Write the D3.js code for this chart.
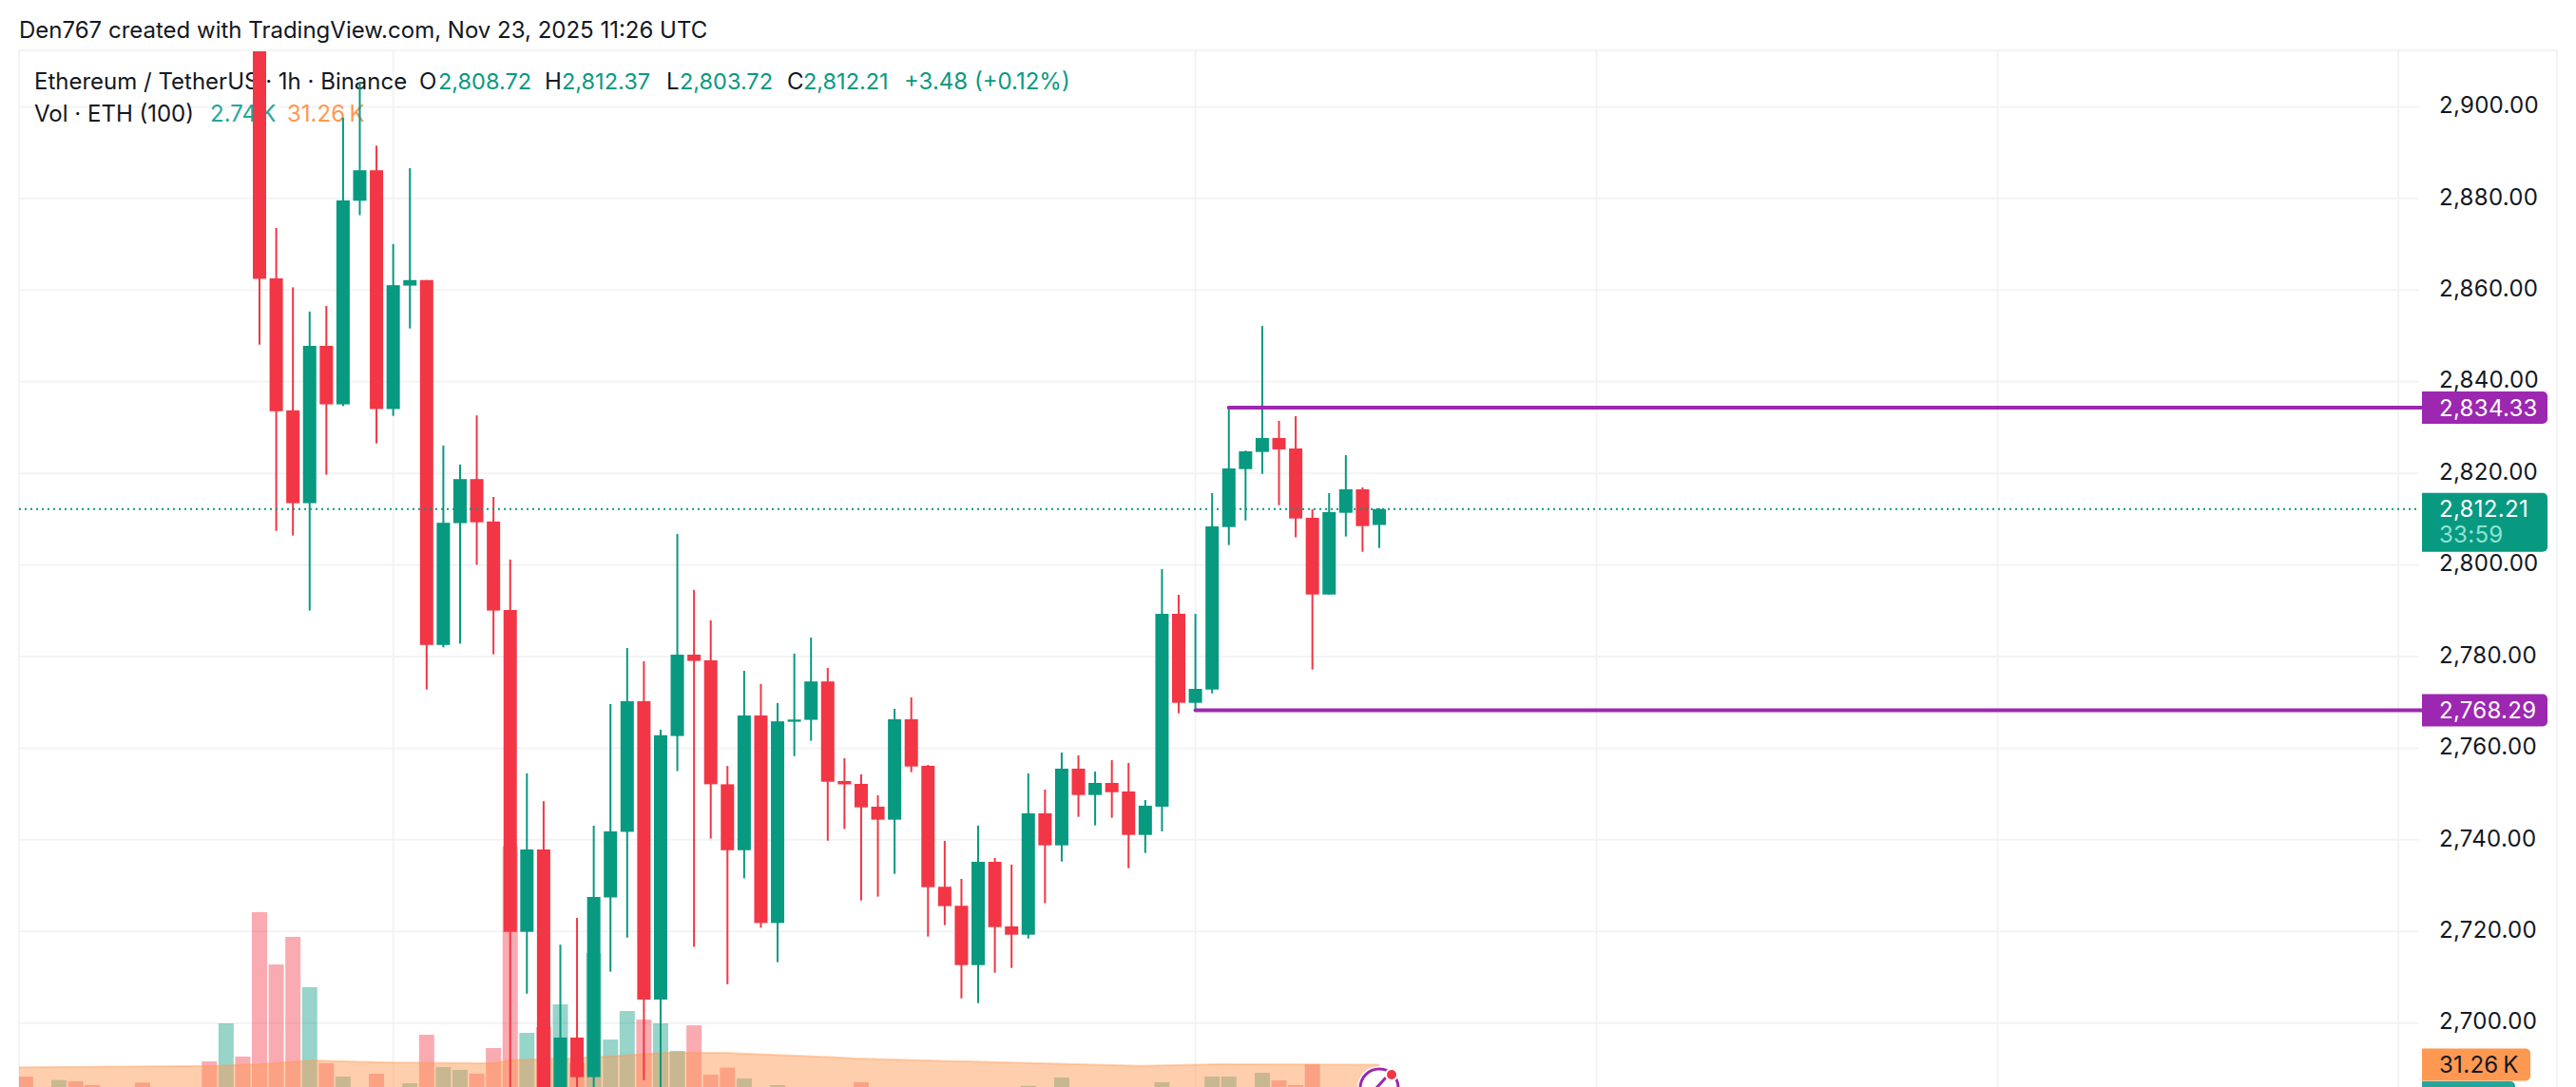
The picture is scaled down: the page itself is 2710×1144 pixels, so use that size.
<!DOCTYPE html>
<html>
<head>
<meta charset="utf-8">
<title>ETHUSDT 1h</title>
<script src="https://cdn.jsdelivr.net/npm/d3@7"></script>
<style>
  html, body { margin: 0; padding: 0; background: #ffffff; }
  svg { display: block; }
  text { font-family: Inter, "Noto Sans", sans-serif; font-size: 24px; fill: #131722; }
</style>
</head>
<body>
<svg id="chart" width="2710" height="1144"></svg>
<script>
// candles, oldest first. first one and a few lows run off the chart
var opens = [2935, 2862.55, 2833.74, 2813.48, 2847.82, 2835.05, 2879.5, 2886.15, 2834.03, 2860.97,
  2862.18, 2782.53, 2809.12, 2818.74, 2809.49, 2790.16, 2719.91, 2737.89, 2680, 2696.83,
  2688.2, 2727.42, 2741.74, 2770.25, 2705.13, 2762.66, 2780.41, 2779.19, 2752.12, 2737.73,
  2767.14, 2721.84, 2765.77, 2766.19, 2774.57, 2752.83, 2752.21, 2747.23, 2744.39, 2766.31,
  2756.15, 2729.75, 2725.6, 2712.65, 2735.2, 2721.1, 2719.29, 2745.78, 2738.79, 2755.53,
  2749.78, 2752.41, 2750.55, 2741.07, 2747.23, 2789.33, 2769.9, 2772.8, 2808.27, 2820.92,
  2824.66, 2827.7, 2825.42, 2810.28, 2793.54, 2811.38, 2816.51, 2808.72];
var highs = [2940, 2873.56, 2860.6, 2855.31, 2856.54, 2897.64, 2905.48, 2891.52, 2870.04, 2886.61,
  2862.18, 2826.07, 2821.9, 2832.64, 2814.84, 2801.18, 2754.51, 2748.43, 2717.11, 2722.96,
  2743.08, 2769.63, 2781.87, 2778.96, 2764.03, 2806.76, 2794.54, 2787.9, 2756.11, 2776.89,
  2774, 2769.86, 2780.64, 2784.15, 2777.53, 2757.81, 2754.28, 2749.72, 2768.59, 2771.08,
  2756.36, 2739.76, 2731.47, 2743.08, 2736.03, 2734.57, 2754.49, 2750.96, 2759.05, 2758.43,
  2754.9, 2757.39, 2756.77, 2748.68, 2799.09, 2793.48, 2789.33, 2815.67, 2834.34, 2824.95,
  2852.18, 2831.44, 2832.47, 2812.15, 2815.67, 2823.97, 2816.92, 2812.37];
var lows = [2848.09, 2807.44, 2806.42, 2790.04, 2819.68, 2834.67, 2876.34, 2826.52, 2832.54, 2851.62,
  2772.82, 2782, 2782.82, 2800.03, 2780.5, 2670, 2706.41, 2670, 2672, 2675,
  2680, 2711.21, 2718.65, 2687.55, 2680, 2755, 2716.64, 2740.28, 2708.48, 2731.59,
  2720.81, 2713.28, 2758.26, 2761.63, 2739.8, 2742.36, 2726.76, 2727.59, 2732.57, 2754.76,
  2718.88, 2721.37, 2705.39, 2704.36, 2710.99, 2712.03, 2718.46, 2726.14, 2735.26, 2745.01,
  2743.15, 2744.8, 2733.81, 2737.13, 2741.84, 2767.62, 2768.24, 2771.97, 2804.33, 2809.72,
  2819.88, 2813.04, 2806.03, 2777.16, 2793.54, 2806.2, 2802.88, 2803.72];
var closes = [2862.45, 2833.55, 2813.48, 2847.82, 2835.05, 2879.58, 2886.15, 2834.03, 2861.06, 2862.18,
  2782.53, 2809.2, 2818.74, 2809.31, 2790.04, 2719.91, 2737.89, 2678.6, 2696.83, 2688.2,
  2727.52, 2741.84, 2770.25, 2705.13, 2762.83, 2780.41, 2779.05, 2752.12, 2737.73, 2767.14,
  2721.84, 2765.86, 2766.25, 2774.57, 2752.68, 2752.1, 2747.09, 2744.39, 2766.31, 2756,
  2729.66, 2725.52, 2712.65, 2735.2, 2720.95, 2719.29, 2745.78, 2738.79, 2755.53, 2749.78,
  2752.41, 2750.4, 2741.07, 2747.44, 2789.33, 2769.9, 2772.95, 2808.41, 2821.07, 2824.8,
  2827.7, 2825.22, 2810.14, 2793.54, 2811.53, 2816.51, 2808.48, 2812.21];

// volume in thousands, only the bars tall enough to show. slot is counted from the first candle
var volSlots = [-14, -12, -11, -10, -7, -3, -2, -1, 0, 1, 2, 3, 4, 5, 7, 9, 10, 11, 12, 13, 14, 15, 16, 17, 18,
  19, 20, 21, 22, 23, 24, 25, 26, 27, 28, 29, 31, 36, 46, 48, 54, 57, 58, 60, 61, 62, 63];
var volK = [20.9, 17.9, 16.8, 13.5, 15.7, 34.1, 67.2, 38.3, 163.9, 118.4, 142.4, 98.6, 32.5, 20.9, 23.4, 15.1,
  57.3, 29.2, 26.7, 23.4, 45.7, 221.3, 58.9, 63.9, 83.7, 32.5, 128.3, 53.1, 77.9, 70.5, 67.2, 43.2, 65.5,
  22.6, 28.7, 19.3, 13.5, 16, 12.9, 20.1, 16, 20.9, 20.9, 24.2, 17.6, 13.5, 31.7];
var volDir = ["d", "u", "d", "d", "d", "d", "u", "d", "d", "d", "d", "u", "d", "u", "d", "u",
  "d", "u", "u", "d", "d", "d", "u", "d", "u", "d", "u", "u", "u", "d", "u", "u", "d",
  "d", "d", "u", "u", "d", "u", "u", "u", "u", "u", "u", "d", "d", "d"];

// volume moving average
var maSlots = [-14.4, -2.7, 0, 3.2, 5, 8, 12, 14, 15, 18.6, 21, 24.3, 27.7, 34.5, 35.7, 41.4, 52.7, 57.3, 67];
var maK = [28.9, 30.2, 31.7, 35, 34.1, 33.1, 32.7, 32.5, 35.2, 36.6, 38.5, 41.6, 41.6, 37.7, 36.6, 34.4, 30.2, 31.7, 31.26];

var priceTicks = [2700, 2720, 2740, 2760, 2780, 2800, 2820, 2840, 2860, 2880, 2900];
var timeGrid = [8, 56, 80, 104];

var lastPrice = 2812.21;
var levelPrices = [2834.33, 2768.29];
var levelStarts = [58, 56];

var upColor = "#089981", downColor = "#F23645", levelColor = "#9C27B0", gridColor = "#f2f3f5";

var svg = d3.select("#chart");

var x = d3.scaleLinear().domain([0, 67]).range([273, 1451]);
var y = d3.scaleLinear().domain([2700, 2840]).range([1076.7, 401.7]);
var vol = d3.scaleLinear().domain([0, 100]).range([1158.3, 1037.3]);

var left = 20, top_ = 53, axisX = 2523, right = 2690, bottom = 1144;

svg.append("clipPath").attr("id", "pane").append("rect")
  .attr("x", left).attr("y", top_ + 1).attr("width", axisX - left).attr("height", bottom - top_);

// grid and frame
var grid = svg.append("g").attr("stroke", gridColor).attr("stroke-width", 2);
grid.selectAll("line.h").data(priceTicks).join("line").attr("class", "h")
  .attr("x1", left).attr("x2", 2545).attr("y1", d => y(d)).attr("y2", d => y(d));
grid.selectAll("line.v").data(timeGrid).join("line").attr("class", "v")
  .attr("x1", d => x(d)).attr("x2", d => x(d)).attr("y1", top_).attr("y2", bottom);
[left, axisX, right].forEach(function(px) {
  grid.append("line").attr("x1", px).attr("x2", px).attr("y1", top_).attr("y2", bottom);
});
grid.append("line").attr("x1", left).attr("x2", right).attr("y1", top_).attr("y2", top_);

// attribution on top, legend sits under the candles
svg.append("text").attr("x", 20).attr("y", 40).text("Den767 created with TradingView.com, Nov 23, 2025 11:26 UTC");

function legend(px, py, str, color, size) {
  svg.append("text").attr("x", px).attr("y", py).style("fill", color).style("font-size", size || "24px").text(str);
}
legend(36, 94, "Ethereum / TetherUS · 1h · Binance", "#131722");
legend(441, 94, "O", "#131722");
legend(461, 94, "2,808.72", upColor, "23.5px");
legend(573, 94, "H", "#131722");
legend(591, 94, "2,812.37", upColor, "23.5px");
legend(701, 94, "L", "#131722");
legend(715, 94, "2,803.72", upColor, "23.5px");
legend(828, 94, "C", "#131722");
legend(845, 94, "2,812.21", upColor, "23.5px");
legend(951, 94, "+3.48 (+0.12%)", upColor);
legend(36, 128, "Vol · ETH (100)", "#131722");
legend(221, 128, "2.74\u2009K", "#26a69a");
legend(302, 128, "31.26\u2009K", "#ff9850");

var pane = svg.append("g").attr("clip-path", "url(#pane)");

// volume
pane.selectAll("rect.vol").data(volSlots).join("rect").attr("class", "vol")
  .attr("x", d => x(d) - 8).attr("width", 16)
  .attr("y", (d, i) => vol(volK[i]))
  .attr("height", (d, i) => vol(0) - vol(volK[i]))
  .attr("fill", (d, i) => volDir[i] == "u" ? upColor : downColor)
  .attr("opacity", 0.42);

// volume MA ribbon
var maData = maSlots.map((s, i) => [s, maK[i]]);
var maArea = d3.area().x(d => x(d[0])).y0(vol(0)).y1(d => vol(d[1]));
var maLine = d3.line().x(d => x(d[0])).y(d => vol(d[1]));
pane.append("path").attr("d", maArea(maData)).attr("fill", "#ff9850").attr("opacity", 0.47);
pane.append("path").attr("d", maLine(maData)).attr("fill", "none").attr("stroke", "#ff9850")
  .attr("stroke-width", 2).attr("opacity", 0.4);

// candles
var candles = pane.selectAll("g.candle").data(closes).join("g").attr("class", "candle")
  .attr("fill", (d, i) => d >= opens[i] ? upColor : downColor);
candles.append("rect")
  .attr("x", (d, i) => x(i) - 1).attr("width", 2)
  .attr("y", (d, i) => y(highs[i]))
  .attr("height", (d, i) => y(lows[i]) - y(highs[i]));
candles.append("rect")
  .attr("x", (d, i) => x(i) - 7).attr("width", 14)
  .attr("y", (d, i) => y(Math.max(opens[i], d)))
  .attr("height", (d, i) => Math.max(2, Math.abs(y(opens[i]) - y(d))));

// last price dotted line
svg.append("line")
  .attr("x1", left).attr("x2", 2544).attr("y1", y(lastPrice)).attr("y2", y(lastPrice))
  .attr("stroke", upColor).attr("stroke-width", 2).attr("stroke-dasharray", "2 4");

// the two horizontal levels
svg.selectAll("line.level").data(levelPrices).join("line").attr("class", "level")
  .attr("x1", (d, i) => x(levelStarts[i])).attr("x2", 2548)
  .attr("y1", d => y(d)).attr("y2", d => y(d))
  .attr("stroke", levelColor).attr("stroke-width", 4).attr("stroke-linecap", "round");

// price axis
var axis = d3.axisRight(y).tickValues(priceTicks).tickSize(0).tickPadding(0).tickFormat(d3.format(",.2f"));
var axisG = svg.append("g").attr("transform", "translate(2566,0)").call(axis);
axisG.select(".domain").remove();
axisG.selectAll("text").style("font-size", "24px").style("font-family", "Inter, sans-serif")
  .style("letter-spacing", "0.3px").attr("fill", "#131722").attr("dy", "0.26em");

// right edge tags, square on the axis side
function tag(yTop, yBot, xEnd, color) {
  var p = d3.path(), r = 5;
  p.moveTo(2548, yTop);
  p.lineTo(xEnd - r, yTop);
  p.arcTo(xEnd, yTop, xEnd, yTop + r, r);
  p.lineTo(xEnd, yBot - r);
  p.arcTo(xEnd, yBot, xEnd - r, yBot, r);
  p.lineTo(2548, yBot);
  p.closePath();
  svg.append("path").attr("d", p.toString()).attr("fill", color);
}
function tagText(py, str, color) {
  svg.append("text").attr("x", 2566).attr("y", py).attr("dy", "0.36em")
    .style("fill", color).style("letter-spacing", "0.3px").text(str);
}

levelPrices.forEach(function(d) {
  tag(y(d) - 17, y(d) + 17, 2680, levelColor);
  tagText(y(d), d3.format(",.2f")(d), "#ffffff");
});

tag(y(lastPrice) - 17, y(lastPrice) + 45, 2680, upColor);
tagText(y(lastPrice), d3.format(",.2f")(lastPrice), "#ffffff");
tagText(y(lastPrice) + 27, "33:59", "#8fe3d2");

// volume tags, the green one is cut by the bottom of the picture
tag(vol(2.74) - 17, vol(2.74) + 17, 2646, "#26a69a");
tag(vol(31.26) - 17, vol(31.26) + 17, 2662, "#ff9850");
tagText(vol(31.26), "31.26\u2009K", "#131722");

// event marker on the last bar
var marker = svg.append("g").attr("transform", "translate(" + x(67) + ",1145)");
marker.append("circle").attr("r", 23).attr("fill", "#ffffff");
marker.append("circle").attr("r", 20).attr("fill", "#ffffff").attr("stroke", levelColor).attr("stroke-width", 3);
marker.append("line").attr("x1", -3).attr("y1", 0).attr("x2", 7).attr("y2", -11)
  .attr("stroke", levelColor).attr("stroke-width", 3);
marker.append("circle").attr("cx", 13).attr("cy", -14).attr("r", 7).attr("fill", "#ffffff");
marker.append("circle").attr("cx", 13).attr("cy", -14).attr("r", 5).attr("fill", downColor);
</script>
</body>
</html>
